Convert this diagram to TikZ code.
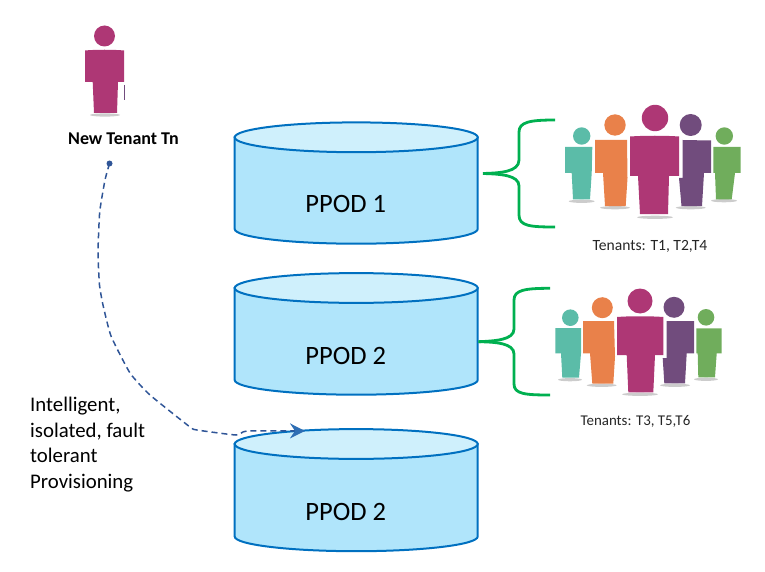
\documentclass[tikz,border=0pt]{standalone}
\usepackage{fontspec}
\setmainfont{Carlito}
\usetikzlibrary{arrows.meta}

\definecolor{podline}{RGB}{0,112,192}
\definecolor{podbody}{RGB}{176,229,251}
\definecolor{podtop}{RGB}{207,240,252}
\definecolor{bracegreen}{RGB}{0,176,80}
\definecolor{flowblue}{RGB}{47,85,151}
\definecolor{tipblue}{RGB}{46,110,180}
\definecolor{pteal}{RGB}{91,188,168}
\definecolor{porange}{RGB}{233,129,74}
\definecolor{pmagenta}{RGB}{174,55,117}
\definecolor{ppurple}{RGB}{113,76,125}
\definecolor{pgreen}{RGB}{112,173,92}

\tikzset{
  podedge/.style={draw=podline,line width=2pt},
  podlabel/.style={font=\fontsize{26.5}{30}\selectfont,inner sep=0pt,anchor=base},
  bracket/.style={draw=bracegreen,line width=2.8pt},
  flow/.style={draw=flowblue,line width=1.5pt,dash pattern=on 6pt off 4pt},
  tenants/.style={text=black!85,inner sep=0pt}
}

% ellipse centre y, side bottom y
\newcommand{\ppod}[2]{
  \filldraw[podedge,fill=podbody] (234.7,#1) -- (234.7,#2) arc[start angle=180,end angle=0,x radius=121.5,y radius=14.7] -- (477.7,#1) -- cycle;
  \filldraw[podedge,fill=podtop] (356.2,#1) ellipse[x radius=121.5,y radius=14.9];
}
% colour, head centre, head radius, body outline, shadow centre, shadow radius
\newcommand{\person}[6]{
  \fill[gray!40] (#5) ellipse[x radius=#6,y radius=1.6];
  \fill[#1] (#2) circle[radius=#3];
  \fill[#1] #4 -- cycle;
}

\begin{document}
\begin{tikzpicture}[x=1pt,y=-1pt]
  \useasboundingbox (0,0) rectangle (765,572);

  % pods
  \ppod{137.3}{229}
  \ppod{288}{380}
  \ppod{444}{536.5}
  \node[podlabel] (pod1text) at (345.7,212.7) {PPOD 1};
  \node[podlabel] (pod2text) at (345.7,364) {PPOD 2};
  \node[podlabel] (pod3text) at (345.7,520) {PPOD 2};

  % lone tenant
  \person{pmagenta}{104.5,36}{10.5}{(85,50.5) .. controls (95,49.5) and (114,49.5) .. (124,50.5) -- (124,82) -- (118,82) -- (117,113) -- (94,113) -- (92.7,82) -- (85,82)}{105,115}{15}
  \draw[ppurple,line width=.7pt] (124,85) -- (124,100);
  \node[font=\bfseries\fontsize{18}{20}\selectfont,inner sep=0pt] (newtenant) at (123.5,139) {New Tenant Tn};

  % first group
  \person{pteal}{581.7,136}{8.7}{(565,147) -- (592.3,147) -- (591.7,173) -- (590,199.3) -- (573,199.3) -- (571.7,173) -- (565,173)}{581.7,201.3}{13}
  \person{pgreen}{724.3,136}{8.7}{(713.3,147) -- (740.7,147) -- (740.7,173) -- (735,173) -- (731.7,199.3) -- (716,199.3) -- (715,173) -- (713.3,173)}{724,200.7}{13}
  \person{porange}{615,125}{10.7}{(595,140) -- (627,140) -- (627.5,178) -- (625.7,206) -- (605,206) -- (603,173) -- (595,173)}{615,207.7}{15}
  \person{ppurple}{690.7,125}{11}{(682.7,140) -- (711,140.5) -- (711,173) -- (704,173) -- (702,206) -- (681.5,206) -- (679,178) -- (682.7,178)}{690.7,207.7}{15}
  \person{pmagenta}{655,118}{13.2}{(630,136.5) .. controls (645,135.5) and (665,135.5) .. (679,136.5) -- (679,176) -- (669,176) -- (668,214) -- (640,214) -- (638,176) -- (630,176)}{655,217.3}{18}
  \node[tenants,font=\fontsize{15.6}{18}\selectfont] (group1text) at (650,246) {Tenants: T1, T2,T4};

  % second group
  \person{pteal}{570.3,317.7}{8.3}{(555.3,328) -- (581,328) -- (581,353.3) -- (579,377.7) -- (562.3,377.7) -- (561,353.3) -- (555.3,353.3)}{570,379.7}{12}
  \person{pgreen}{706,317.3}{8.3}{(696.3,328.3) -- (721.7,328.3) -- (721.7,353.3) -- (716.7,353.3) -- (715,377.3) -- (698.3,377.3) -- (697.7,353.3) -- (696.3,353.3)}{706,379.3}{12}
  \person{porange}{602.3,307.7}{10.5}{(583,321) -- (614,321) -- (615,356.7) -- (613.3,383.7) -- (592.3,383.7) -- (590,353.3) -- (583,353.3)}{601.7,385.3}{15}
  \person{ppurple}{674,307.3}{10.5}{(666.7,321) -- (694,321) -- (694,353.3) -- (686.7,353.3) -- (685,383.3) -- (664.3,383.3) -- (662.7,358) -- (666.7,358)}{675,385.3}{15}
  \person{pmagenta}{640,301}{12.5}{(617,317) .. controls (630,316) and (650,316) .. (663.3,317) -- (663.3,355) -- (655,355) -- (653.3,392.3) -- (628.3,392.3) -- (626.7,355) -- (617,355)}{640,394.3}{18}
  \node[tenants,font=\fontsize{14.9}{18}\selectfont] (group2text) at (635.5,421) {Tenants: T3, T5,T6};

  % brackets
  \coordinate (tip1) at (483,173.5);
  \coordinate (tip2) at (478.5,341.7);
  \draw[bracket] (tip1) .. controls (500,173) and (519,172) .. (519,160) -- (519,132) .. controls (519,122) and (530,120) .. (555,120);
  \draw[bracket] (tip1) .. controls (500,174) and (519,175) .. (519,186) -- (519,215) .. controls (519,226) and (530,227) .. (555,227);
  \draw[bracket] (tip2) .. controls (495,341) and (514,340) .. (514,329) -- (514,300) .. controls (514,290) and (525,288.3) .. (550,288.3);
  \draw[bracket] (tip2) .. controls (495,342) and (514,343) .. (514,354) -- (514,384) .. controls (514,394) and (525,395) .. (550,395);

  % provisioning path
  \node[circle,fill=flowblue,inner sep=0pt,minimum size=6pt] (flowstart) at (109.5,163.5) {};
  \coordinate (f1) at (105,180);
  \coordinate (f2) at (99.7,212);
  \coordinate (f3) at (98,253);
  \coordinate (f4) at (99.5,285);
  \coordinate (f5) at (103,305);
  \coordinate (f6) at (111,336);
  \coordinate (f7) at (130,373);
  \coordinate (f8) at (150,395);
  \coordinate (f9) at (190,427);
  \coordinate (f10) at (197,430);
  \coordinate (f11) at (236,435);
  \coordinate (f12) at (247,431);
  \coordinate (flowend) at (305,431);
  \draw[flow,-{Stealth[length=15pt,width=15pt,inset=5pt,color=tipblue]}] plot[smooth,tension=.3] coordinates {(flowstart) (f1) (f2) (f3) (f4) (f5) (f6) (f7) (f8) (f9) (f10) (f11) (f12) (flowend)};

  \node[font=\fontsize{20.8}{25.6}\selectfont,align=left,anchor=north west,inner sep=0pt] (provision) at (30,397) {Intelligent,\\isolated, fault\\tolerant\\Provisioning};
\end{tikzpicture}
\end{document}
